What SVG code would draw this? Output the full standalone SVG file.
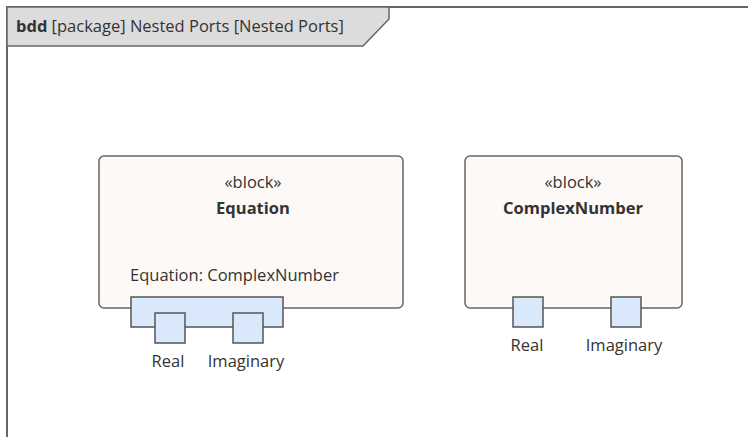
<svg xmlns="http://www.w3.org/2000/svg" width="748" height="437" viewBox="0 0 748 437">
<style>
text{font-family:"Open Sans","Liberation Sans",sans-serif;fill:#333;font-size:16.5px}
.c{text-anchor:middle}
.b{font-weight:bold}
.blk{fill:#fdf9f6;stroke:#666;stroke-width:1.5}
.port{fill:#dae8fb;stroke:#555;stroke-width:1.5}
</style>
<rect width="748" height="437" fill="#fff"/>
<g id="frame">
<path d="M7,440 V7 H750" fill="none" stroke="#666" stroke-width="2"/>
<path d="M7,7 H389 V19 L363,46 H7 Z" fill="#dcdcdc" stroke="#666" stroke-width="1.5"/>
<text x="16" y="32"><tspan class="b">bdd</tspan> [package] Nested Ports [Nested Ports]</text>
</g>
<g id="Equation">
<rect class="blk" x="99" y="156" width="304" height="152" rx="5"/>
<text class="c" x="253" y="188">«block»</text>
<text class="c b" x="253" y="214">Equation</text>
<text x="130" y="281">Equation: ComplexNumber</text>
</g>
<g id="Equation_port">
<rect class="port" x="131" y="297" width="152" height="30"/>
</g>
<g id="Equation_Real">
<rect class="port" x="155" y="313" width="30" height="30"/>
<text class="c" x="168" y="367">Real</text>
</g>
<g id="Equation_Imaginary">
<rect class="port" x="233" y="313" width="30" height="30"/>
<text class="c" x="246" y="367">Imaginary</text>
</g>
<g id="ComplexNumber">
<rect class="blk" x="465" y="156" width="217" height="152" rx="5"/>
<text class="c" x="573" y="188">«block»</text>
<text class="c b" x="573" y="214">ComplexNumber</text>
</g>
<g id="ComplexNumber_Real">
<rect class="port" x="513" y="297" width="30" height="30"/>
<text class="c" x="527" y="351">Real</text>
</g>
<g id="ComplexNumber_Imaginary">
<rect class="port" x="611" y="297" width="30" height="30"/>
<text class="c" x="624" y="351">Imaginary</text>
</g>
<g id="connectors"></g>
</svg>
